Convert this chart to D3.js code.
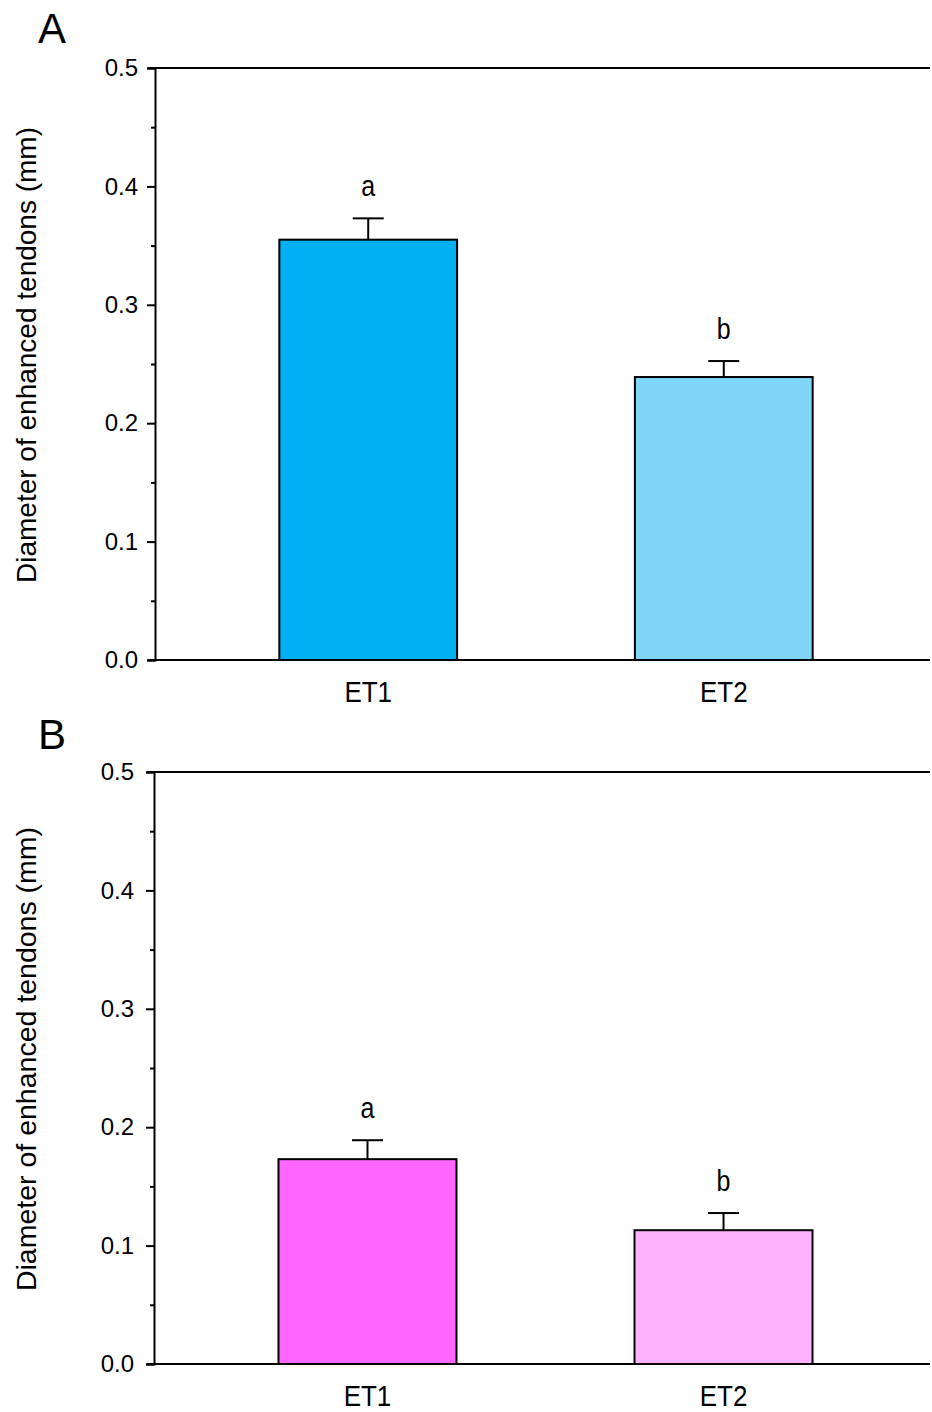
<!DOCTYPE html>
<html>
<head>
<meta charset="utf-8">
<script src="https://cdn.jsdelivr.net/npm/d3@7"></script>
<style>
  html, body { margin: 0; padding: 0; background: #fff; }
  svg { display: block; }
  text { font-family: Arial, "Liberation Sans", Helvetica, sans-serif; fill: #000; }
</style>
</head>
<body>
<svg id="chart" width="932" height="1412"></svg>
<script>
const categories = ["ET1", "ET2"];
const panelLabels = ["A", "B"];
const meansA = [0.355, 0.239];
const errorsA = [0.018, 0.0135];
const meansB = [0.173, 0.113];
const errorsB = [0.016, 0.0145];
const lettersA = ["a", "b"];
const lettersB = ["a", "b"];
const colorsA = ["#00B0F0", "#7FD6F7"];
const colorsB = ["#FF66FF", "#FFB3FF"];
const yMajorTicks = [0, 0.1, 0.2, 0.3, 0.4, 0.5];
const yMinorTicks = [0.05, 0.15, 0.25, 0.35, 0.45];
const yTitle = "Diameter of enhanced tendons (mm)";

const svg = d3.select("#chart");
const FONT = "Arial, 'Liberation Sans', sans-serif";
const STRETCH = 1.17;

const panels = [
  { label: panelLabels[0], means: meansA, errors: errorsA, letters: lettersA, colors: colorsA,
    top: 68, bottom: 660, left: 155, right: 930, labelY: 43, tickPad: 9, titleSize: 28 },
  { label: panelLabels[1], means: meansB, errors: errorsB, letters: lettersB, colors: colorsB,
    top: 772, bottom: 1364, left: 154, right: 930, labelY: 749, tickPad: 12, titleSize: 28.5 }
];

panels.forEach(p => {
  const g = svg.append("g");
  const y = d3.scaleLinear().domain([0, 0.5]).range([p.bottom, p.top]);
  const x = d3.scaleBand().domain(categories).range([p.left + 7, p.right])
    .paddingInner(0.5).paddingOuter(0.33);

  // panel letter
  g.append("text").attr("x", 38).attr("y", p.labelY)
    .attr("font-size", 42).text(p.label);

  // y axis title
  const cy = (p.top + p.bottom) / 2 - 9;
  g.append("text")
    .attr("transform", `translate(36,${cy}) rotate(-90)`)
    .attr("text-anchor", "middle")
    .attr("font-size", p.titleSize)
    .text(yTitle);

  const data = categories.map((c, i) => ({ c, v: p.means[i], e: p.errors[i], l: p.letters[i], col: p.colors[i] }));

  // error bars (upper only) and significance letters
  const capW = 31;
  data.forEach(d => {
    const cx = x(d.c) + x.bandwidth() / 2;
    g.append("line").attr("x1", cx).attr("x2", cx)
      .attr("y1", y(d.v)).attr("y2", y(d.v + d.e))
      .attr("stroke", "#000").attr("stroke-width", 2);
    g.append("line").attr("x1", cx - capW / 2).attr("x2", cx + capW / 2)
      .attr("y1", y(d.v + d.e)).attr("y2", y(d.v + d.e))
      .attr("stroke", "#000").attr("stroke-width", 2);
    g.append("text")
      .attr("transform", `translate(${cx},${y(d.v + d.e) - 22}) scale(1,${STRETCH})`)
      .attr("text-anchor", "middle").attr("font-size", 25).text(d.l);
  });

  g.selectAll("rect.bar").data(data).enter().append("rect")
    .attr("class", "bar")
    .attr("x", d => x(d.c))
    .attr("width", x.bandwidth())
    .attr("y", d => y(d.v))
    .attr("height", d => y(0) - y(d.v))
    .attr("fill", d => d.col)
    .attr("stroke", "#000").attr("stroke-width", 2);

  // top border line
  g.append("line").attr("x1", p.left - 7).attr("x2", p.right)
    .attr("y1", y(0.5)).attr("y2", y(0.5))
    .attr("stroke", "#000").attr("stroke-width", 2);

  // y axis
  const yAxis = d3.axisLeft(y).tickValues(yMajorTicks).tickFormat(d3.format(".1f"))
    .tickSize(8).tickPadding(p.tickPad);
  const ya = g.append("g").attr("transform", `translate(${p.left},0)`).call(yAxis);
  ya.select(".domain").attr("stroke-width", 2);
  ya.selectAll(".tick line").attr("stroke-width", 2);
  ya.selectAll(".tick text").attr("font-size", 24).attr("font-family", FONT).attr("fill", "#000");

  const yMinor = d3.axisLeft(y).tickValues(yMinorTicks).tickFormat("").tickSize(4);
  const ym = g.append("g").attr("transform", `translate(${p.left},0)`).call(yMinor);
  ym.select(".domain").remove();
  ym.selectAll(".tick line").attr("stroke-width", 2);

  // x axis
  const xAxis = d3.axisBottom(x).tickSize(0).tickPadding(0);
  const xa = g.append("g").attr("transform", `translate(0,${p.bottom})`).call(xAxis);
  xa.select(".domain").attr("d", `M${p.left - 7},0H${p.right}`).attr("stroke-width", 2);
  xa.selectAll(".tick text")
    .attr("y", 0).attr("dy", null)
    .attr("transform", `translate(0,42) scale(1,${STRETCH})`)
    .attr("font-size", 26).attr("font-family", FONT).attr("fill", "#000");
});
</script>
</body>
</html>
